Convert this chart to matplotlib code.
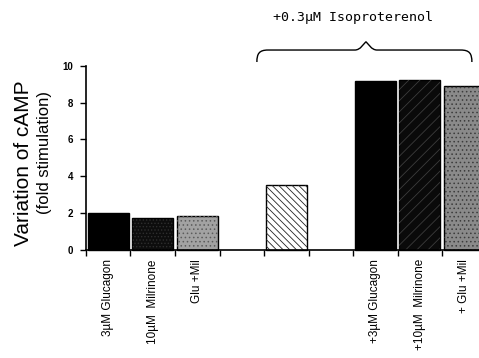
import numpy as np
import matplotlib
matplotlib.use("Agg")
import matplotlib.pyplot as plt
from matplotlib.path import Path
from matplotlib.patches import PathPatch

# bar data: slot index along the x axis, fold stimulation, label
slots = [0, 1, 2, 4, 6, 7, 8]
values = [2.03, 1.76, 1.85, 3.53, 9.15, 9.24, 8.91]
labels = ["3\u00b5M Glucagon", "10\u00b5M  Milrinone", "Glu +Mil", "",
          "+3\u00b5M Glucagon", "+10\u00b5M  Milrinone", "+ Glu +Mil"]
yticks = [0, 2, 4, 6, 8, 10]

# fill, hatch, hatch colour for each bar
styles = [
    ("#000000", None, None),
    ("#0d0d0d", ".....", "#2e2e2e"),
    ("#a2a2a2", "....", "#5c5c5c"),
    ("#ffffff", "\\" * 5, "#222222"),
    ("#000000", None, None),
    ("#0a0a0a", "///", "#3c3c3c"),
    ("#8a8a8a", "....", "#3c3c3c"),
]

plt.rcParams["font.family"] = ["Liberation Sans", "DejaVu Sans"]
plt.rcParams["hatch.linewidth"] = 0.6

fig = plt.figure(figsize=(4.79, 3.58), dpi=100)
ax = fig.add_axes([0.1795, 0.3017, 0.8205, 0.5148])

width = 0.92
for s, v, (fc, hatch, hc) in zip(slots, values, styles):
    ax.bar(s + 0.5, v, width=width, color=fc, edgecolor="black",
           linewidth=1.0, clip_on=False)
    if hatch:
        ax.bar(s + 0.5, v, width=width, fill=False, edgecolor=hc,
               linewidth=0, hatch=hatch, clip_on=False)

ax.set_xlim(0, 8.83)
ax.set_ylim(0, 10)
ax.set_yticks(yticks)
ax.set_yticklabels([str(t) for t in yticks], fontsize=7, fontweight="bold")
ax.set_xticks(range(0, 9))
ax.set_xticklabels([])
ax.tick_params(axis="both", direction="out", length=4, width=1.0, color="black")
ax.tick_params(axis="y", pad=5)

for sp in ["top", "right"]:
    ax.spines[sp].set_visible(False)
for sp in ["left", "bottom"]:
    ax.spines[sp].set_linewidth(1.2)

# rotated category labels under the bars
for s, lab in zip(slots, labels):
    if lab:
        ax.text(s + 0.5, -0.5, lab, rotation=90, ha="center", va="top",
                fontsize=8.5, transform=ax.transData)

# y axis label in two lines
fig.text(0.05, 0.545, "Variation of cAMP", rotation=90, ha="center",
         va="center", fontsize=15)
fig.text(0.092, 0.575, "(fold stimulation)", rotation=90, ha="center",
         va="center", fontsize=12)

# curly brace over the isoproterenol group
x0, x1, xm = 3.84, 8.67, 6.29
yb, yh, yp = 10.2, 10.85, 11.3
verts = [
    (x0, yb), (x0, yh - 0.2), (x0 + 0.05, yh), (x0 + 0.25, yh),
    (xm - 0.25, yh),
    (xm - 0.12, yh), (xm - 0.05, yp - 0.1), (xm, yp),
    (xm + 0.05, yp - 0.1), (xm + 0.12, yh), (xm + 0.25, yh),
    (x1 - 0.25, yh),
    (x1 - 0.05, yh), (x1, yh - 0.2), (x1, yb),
]
codes = [Path.MOVETO, Path.CURVE4, Path.CURVE4, Path.CURVE4,
         Path.LINETO,
         Path.CURVE4, Path.CURVE4, Path.CURVE4,
         Path.CURVE4, Path.CURVE4, Path.CURVE4,
         Path.LINETO,
         Path.CURVE4, Path.CURVE4, Path.CURVE4]
brace = PathPatch(Path(verts, codes), fill=False, edgecolor="black",
                  linewidth=1.0, clip_on=False)
ax.add_patch(brace)

ax.text(6.0, 12.6, "+0.3\u00b5M Isoproterenol", ha="center", va="center",
        fontsize=9.5, family=["DejaVu Sans Mono"])

fig.savefig("out.png", dpi=100)
